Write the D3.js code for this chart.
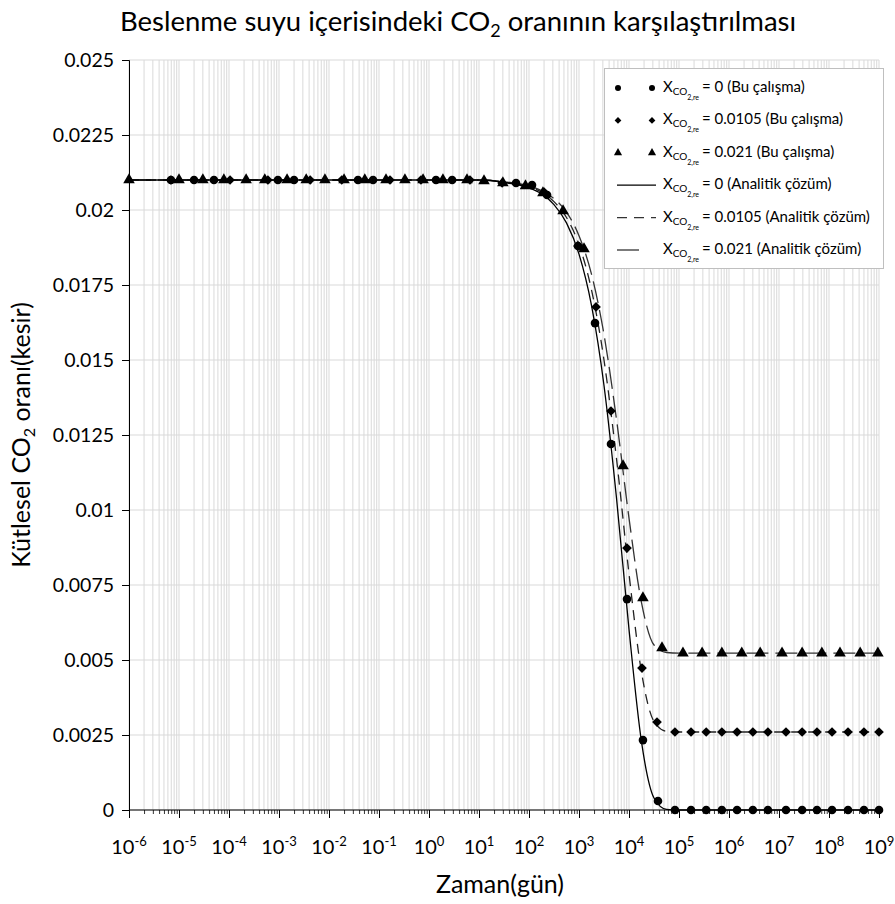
<!DOCTYPE html>
<html>
<head>
<meta charset="utf-8">
<script src="https://cdn.jsdelivr.net/npm/d3@7"></script>
<style>
  body { margin: 0; background: #fff; }
  svg { display: block; font-family: Lato, "Open Sans", sans-serif; }
</style>
</head>
<body>
<svg id="chart" width="895" height="904"></svg>
<script>
// Simulation results (time in days, mass fraction of CO2)
const circleT = [6.9e-6, 2.0e-5, 5.0e-5, 9.5e-4, 2.0e-3, 0.038, 0.076, 1.38, 2.9, 55, 115, 230,
  955, 2090, 4365, 9120, 19000, 38000, 83000, 1.74e5, 3.5e5, 7.2e5, 1.45e6, 3.0e6, 6.0e6,
  1.38e7, 2.9e7, 5.75e7, 1.15e8, 2.4e8, 5.0e8, 1e9];
const circleV = [0.021, 0.021, 0.021, 0.021, 0.021, 0.021, 0.021, 0.021, 0.021, 0.0209, 0.02083, 0.0205,
  0.0188, 0.01623, 0.0122, 0.00703, 0.00233, 0.0003, 0, 0, 0, 0, 0, 0, 0,
  0, 0, 0, 0, 0, 0, 0];

const diamondT = [6.9e-6, 1.05e-4, 6.0e-4, 4.2e-3, 0.018, 0.166, 0.69, 6.6, 29, 200,
  955, 2190, 4365, 9120, 18200, 36300, 83000, 1.74e5, 3.5e5, 7.2e5, 1.45e6, 3.0e6, 6.0e6,
  1.38e7, 2.9e7, 5.75e7, 1.15e8, 2.4e8, 5.0e8, 1e9];
const diamondV = [0.021, 0.021, 0.021, 0.021, 0.021, 0.021, 0.021, 0.021, 0.0209, 0.0206,
  0.0188, 0.01677, 0.0133, 0.00873, 0.00473, 0.00293, 0.0026, 0.0026, 0.0026, 0.0026, 0.0026, 0.0026, 0.0026,
  0.0026, 0.0026, 0.0026, 0.0026, 0.0026, 0.0026, 0.0026];

const triangleT = [1e-6, 1e-5, 3.0e-5, 7.9e-5, 2.2e-4, 5.2e-4, 1.45e-3, 3.5e-3, 8.3e-3, 0.02, 0.052,
  0.138, 0.33, 0.76, 1.9, 5.75, 12.6, 30, 85, 190, 480, 1260, 7600, 19000, 45700,
  1.2e5, 2.9e5, 7.2e5, 1.8e6, 4.2e6, 1.15e7, 2.9e7, 7.2e7, 1.66e8, 4.2e8, 9.5e8];
const triangleV = [0.021, 0.021, 0.021, 0.021, 0.021, 0.021, 0.021, 0.021, 0.021, 0.021, 0.021,
  0.021, 0.021, 0.021, 0.021, 0.021, 0.02097, 0.0209, 0.0208, 0.02057, 0.01997, 0.0187, 0.01147, 0.00707, 0.0054,
  0.00523, 0.00523, 0.00523, 0.00523, 0.00523, 0.00523, 0.00523, 0.00523, 0.00523, 0.00523, 0.00523];

// Analytical solutions
const lineT = [1e-6, 10, 31.6, 100, 178, 316, 562, 1000, 1778, 3162, 5623, 10000, 17783, 31623, 56234, 1e5, 1e9];
const line0V = [0.021, 0.021, 0.02092, 0.02074, 0.02054, 0.02018, 0.01957, 0.01853, 0.01682, 0.01415,
  0.0104, 0.00602, 0.00227, 0.0004, 0.00002, 0, 0];
const line0105V = [0.021, 0.021, 0.02093, 0.02077, 0.0206, 0.02028, 0.01975, 0.01884, 0.01734, 0.015,
  0.01171, 0.00787, 0.00459, 0.00295, 0.00262, 0.0026, 0.0026];
const line021V = [0.021, 0.021, 0.02094, 0.0208, 0.02065, 0.02038, 0.01993, 0.01914, 0.01786, 0.01585,
  0.01302, 0.00973, 0.00691, 0.0055, 0.00525, 0.00523, 0.00523];

const yTicks = [0, 0.0025, 0.005, 0.0075, 0.01, 0.0125, 0.015, 0.0175, 0.02, 0.0225, 0.025];
const yTickLabels = ["0", "0.0025", "0.005", "0.0075", "0.01", "0.0125", "0.015", "0.0175", "0.02", "0.0225", "0.025"];
const xExponents = [-6, -5, -4, -3, -2, -1, 0, 1, 2, 3, 4, 5, 6, 7, 8, 9];

const legendLabels = [
  "= 0 (Bu çalışma)", "= 0.0105 (Bu çalışma)", "= 0.021 (Bu çalışma)",
  "= 0 (Analitik çözüm)", "= 0.0105 (Analitik çözüm)", "= 0.021 (Analitik çözüm)"
];

const svg = d3.select("#chart");
const x = d3.scaleLog().domain([1e-6, 1e9]).range([129, 879]);
const y = d3.scaleLinear().domain([0, 0.025]).range([810, 60]);

// grid
const minorVals = [];
for (let e = -6; e < 9; e++) for (let m = 1; m <= 9; m++) minorVals.push(m * Math.pow(10, e));
minorVals.push(1e9);
const grid = svg.append("g");
grid.selectAll("line.v").data(minorVals).join("line")
  .attr("x1", d => x(d)).attr("x2", d => x(d)).attr("y1", 60).attr("y2", 810)
  .attr("stroke", "#d9d9d9").attr("stroke-width", 1);
grid.selectAll("line.h").data(yTicks).join("line")
  .attr("x1", 129).attr("x2", 879).attr("y1", d => y(d)).attr("y2", d => y(d))
  .attr("stroke", "#d9d9d9").attr("stroke-width", 1);

// axes
const yAxis = d3.axisLeft(y).tickValues(yTicks).tickFormat((d, i) => yTickLabels[i]).tickSize(7).tickPadding(8);
const gy = svg.append("g").attr("transform", "translate(129,0)").call(yAxis);
gy.select(".domain").attr("stroke", "#000");
gy.selectAll(".tick line").attr("stroke", "#000");
gy.selectAll(".tick text").attr("font-family", "Lato, sans-serif").attr("font-size", 19.5).attr("fill", "#000");

const xAxisMinor = d3.axisBottom(x).tickValues(minorVals).tickFormat("").tickSize(4).tickSizeOuter(0);
const gxm = svg.append("g").attr("transform", "translate(0,810)").call(xAxisMinor);
gxm.select(".domain").remove();
gxm.selectAll(".tick line").attr("stroke", "#333");

const majorVals = xExponents.map(e => Math.pow(10, e));
const xAxis = d3.axisBottom(x).tickValues(majorVals).tickFormat("").tickSize(8).tickSizeOuter(0);
const gx = svg.append("g").attr("transform", "translate(0,810)").call(xAxis);
gx.select(".domain").attr("stroke", "#000").attr("d", "M129,0H879");
gx.selectAll(".tick line").attr("stroke", "#000");

// x tick labels with superscript exponents
const xl = svg.append("g");
xExponents.forEach(e => {
  const t = xl.append("text").attr("x", x(Math.pow(10, e))).attr("y", 854)
    .attr("text-anchor", "middle").attr("font-size", 20).attr("fill", "#000");
  t.append("tspan").text("10");
  t.append("tspan").attr("font-size", 13).attr("dy", -8).text(String(e));
});

// analytic lines
const lineGen = vals => d3.line().x((d, i) => x(lineT[i])).y((d, i) => y(vals[i])).curve(d3.curveMonotoneX)(vals);
svg.append("path").attr("d", lineGen(line021V)).attr("fill", "none")
  .attr("stroke", "#333").attr("stroke-width", 1.3).attr("stroke-dasharray", "22,7");
svg.append("path").attr("d", lineGen(line0105V)).attr("fill", "none")
  .attr("stroke", "#222").attr("stroke-width", 1.3).attr("stroke-dasharray", "10,7");
svg.append("path").attr("d", lineGen(line0V)).attr("fill", "none")
  .attr("stroke", "#000").attr("stroke-width", 1.3);

// markers
const circleSym = d3.symbol().type(d3.symbolCircle).size(58);
const diamondSym = d3.symbol().type(d3.symbolDiamond2).size(60);
const triSym = d3.symbol().type(d3.symbolTriangle).size(58);

svg.append("g").selectAll("path").data(circleV).join("path")
  .attr("d", circleSym).attr("transform", (d, i) => `translate(${x(circleT[i])},${y(d)})`).attr("fill", "#000");
svg.append("g").selectAll("path").data(diamondV).join("path")
  .attr("d", diamondSym).attr("transform", (d, i) => `translate(${x(diamondT[i])},${y(d)})`).attr("fill", "#000");
svg.append("g").selectAll("path").data(triangleV).join("path")
  .attr("d", triSym).attr("transform", (d, i) => `translate(${x(triangleT[i])},${y(d)})`).attr("fill", "#000");

// legend
const lg = svg.append("g");
lg.append("rect").attr("x", 604.5).attr("y", 68.5).attr("width", 279).attr("height", 200)
  .attr("fill", "#fff").attr("stroke", "#bfbfbf");
const syms = [circleSym, diamondSym, triSym];
legendLabels.forEach((lab, i) => {
  const cy = 88 + i * 32.4;
  if (i < 3) {
    [618, 652].forEach(cx => {
      lg.append("path").attr("d", syms[i]).attr("transform", `translate(${cx},${cy}) scale(0.7)`).attr("fill", "#000");
    });
  } else {
    const dash = i === 3 ? null : (i === 4 ? "10,7" : "22,7");
    const x2 = i === 5 ? 642 : 656;
    const ln = lg.append("line").attr("x1", 617).attr("x2", x2).attr("y1", cy).attr("y2", cy)
      .attr("stroke", i === 3 ? "#000" : "#333").attr("stroke-width", 1.3);
    if (dash) ln.attr("stroke-dasharray", dash);
  }
  const t = lg.append("text").attr("x", 663).attr("y", cy + 4).attr("font-size", 15).attr("fill", "#000");
  t.append("tspan").text("X");
  t.append("tspan").attr("font-size", 10).attr("dy", 3).text("CO");
  t.append("tspan").attr("font-size", 7).attr("dy", 5).text("2,re");
  t.append("tspan").attr("dy", -8).attr("dx", 3).text(lab);
});

// title
const title = svg.append("text").attr("x", 458).attr("y", 31).attr("text-anchor", "middle")
  .attr("font-size", 27.5).attr("fill", "#000");
title.append("tspan").text("Beslenme suyu içerisindeki CO");
title.append("tspan").attr("font-size", 18).attr("dy", 6).text("2");
title.append("tspan").attr("dy", -6).text(" oranının karşılaştırılması");

// axis titles
svg.append("text").attr("x", 500).attr("y", 893).attr("text-anchor", "middle")
  .attr("font-size", 25).attr("fill", "#000").text("Zaman(gün)");
const yt = svg.append("text").attr("transform", "translate(30,435) rotate(-90)").attr("text-anchor", "middle")
  .attr("font-size", 25).attr("fill", "#000");
yt.append("tspan").text("Kütlesel CO");
yt.append("tspan").attr("font-size", 16).attr("dy", 5).text("2");
yt.append("tspan").attr("dy", -5).text(" oranı(kesir)");
</script>
</body>
</html>
